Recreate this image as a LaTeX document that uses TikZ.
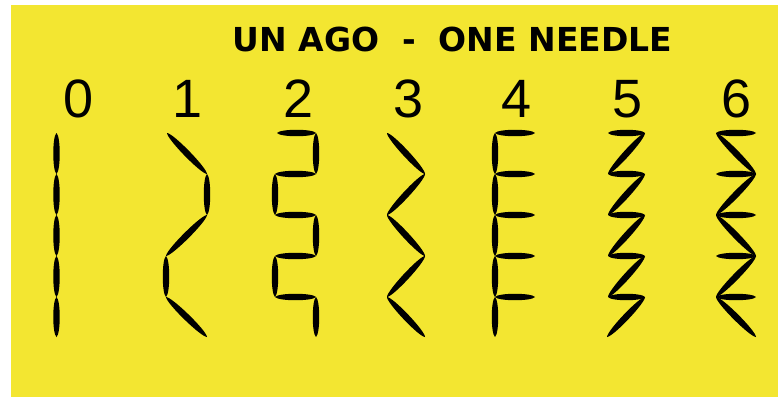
\documentclass[tikz,border=0pt]{standalone}
\usepackage{fontspec}
\setmainfont{Liberation Sans}
\newfontfamily\titlefont{DejaVu Sans}
\usetikzlibrary{calc}
\definecolor{bgyellow}{RGB}{243,230,49}
\newcommand\stitch[2]{%
  \fill[black] (#1) .. controls ($(#1)!0.08!(#2)!4.3pt!90:(#2)$) and ($(#2)!0.08!(#1)!4.3pt!-90:(#1)$) .. (#2)
    .. controls ($(#2)!0.08!(#1)!4.3pt!90:(#1)$) and ($(#1)!0.08!(#2)!4.3pt!-90:(#2)$) .. (#1) -- cycle;}
\begin{document}
\begin{tikzpicture}[x=1pt,y=-1pt,
  digit/.style={inner sep=0pt,anchor=base,font=\fontsize{54}{54}\selectfont},
  titletext/.style={inner sep=0pt,anchor=base,font=\titlefont\bfseries\fontsize{33}{33}\selectfont}]
\useasboundingbox (0,0) rectangle (778,397);
\fill[white] (0,0) rectangle (778,397);
\fill[bgyellow] (11,5) rectangle (778,397);
\node[titletext] (title) at (452.5,51) {UN AGO\ \ -\ \ ONE NEEDLE};
\node[digit] (d0) at (79,117.5) {0};
\node[digit] (d1) at (188,117.5) {1};
\node[digit] (d2) at (299,117.5) {2};
\node[digit] (d3) at (409,117.5) {3};
\node[digit] (d4) at (517,117.5) {4};
\node[digit] (d5) at (628,117.5) {5};
\node[digit] (d6) at (737,117.5) {6};
% column 0
\foreach \a/\b in {133/174,174/215,215/256,256/297,297/337}{\stitch{56.5,\a}{56.5,\b}}
% column 1
\stitch{167,133}{207,174}
\stitch{207,174}{207,215}
\stitch{207,215}{166,256}
\stitch{166,256}{166,297}
\stitch{166,297}{207,337}
% column 2
\stitch{277,133}{316,133}
\stitch{316,133}{316,174}
\stitch{316,174}{275,174}
\stitch{275,174}{275,215}
\stitch{275,215}{316,215}
\stitch{316,215}{316,256}
\stitch{316,256}{275,256}
\stitch{275,256}{275,297}
\stitch{275,297}{316,297}
\stitch{316,297}{316,337}
% column 3
\stitch{387,133}{425,174}
\stitch{425,174}{387,215}
\stitch{387,215}{425,256}
\stitch{425,256}{387,297}
\stitch{387,297}{425,337}
% column 4
\foreach \a/\b in {133/174,174/215,215/256,256/297,297/337}{\stitch{495,\a}{495,\b}}
\foreach \a in {133,174,215,256,297}{\stitch{495,\a}{535,\a}}
% column 5
\foreach \a/\b in {133/174,174/215,215/256,256/297}{\stitch{608,\a}{645,\a}\stitch{645,\a}{608,\b}}
\stitch{608,297}{645,297}
\stitch{645,297}{607,337}
% column 6
\foreach \a in {133,174,215,256,297}{\stitch{716,\a}{756,\a}}
\stitch{716,133}{756,174}
\stitch{756,174}{716,215}
\stitch{716,215}{756,256}
\stitch{756,256}{716,297}
\stitch{716,297}{756,337}
\end{tikzpicture}
\end{document}
